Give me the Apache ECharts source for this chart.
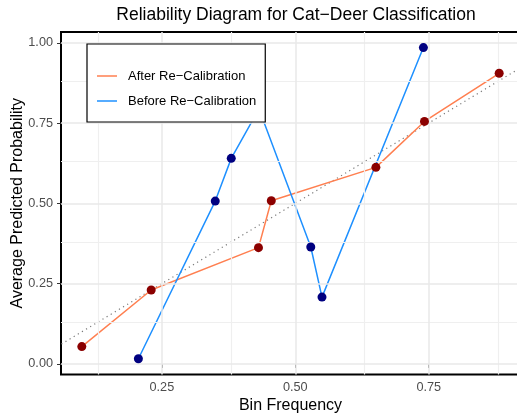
<!DOCTYPE html>
<html>
<head>
<meta charset="utf-8">
<script src="https://cdn.jsdelivr.net/npm/echarts@6/dist/echarts.min.js"></script>
<style>
  html, body { margin: 0; padding: 0; background: #fff; }
  #chart { width: 517px; height: 418px; }
</style>
</head>
<body>
<div id="chart"></div>
<script>
// Reliability curve: bin frequency (x) vs. average predicted probability (y)
const binFreqAfter  = [0.100, 0.230, 0.431, 0.455, 0.651, 0.742, 0.882];
const avgProbAfter  = [0.054, 0.230, 0.362, 0.508, 0.612, 0.755, 0.905];
const binFreqBefore = [0.206, 0.350, 0.380, 0.432, 0.529, 0.550, 0.740];
const avgProbBefore = [0.016, 0.507, 0.640, 0.794, 0.364, 0.208, 0.985];

const seriesNames = ['After Re\u2212Calibration', 'Before Re\u2212Calibration'];

const xTicks = [0.25, 0.50, 0.75];
const yTicks = [0.00, 0.25, 0.50, 0.75, 1.00];
const xMinorTicks = [0.125, 0.375, 0.625, 0.875];
const yMinorTicks = [0.125, 0.375, 0.625, 0.875];

const xRange = [0.061, 0.921];
const yRange = [-0.033, 1.0335];

const pairs = (xs, ys) => xs.map((x, i) => [x, ys[i]]);

const FONT = '"Liberation Sans", Arial, Helvetica, sans-serif';
const majorGrid = { color: '#e9e9e9', width: 1.5, type: 'solid' };
const minorGrid = { color: '#efefef', width: 1.2, type: 'solid' };

const gridLines = [
  ...xMinorTicks.map(v => ({ xAxis: v, lineStyle: minorGrid })),
  ...yMinorTicks.map(v => ({ yAxis: v, lineStyle: minorGrid })),
  ...xTicks.map(v => ({ xAxis: v, lineStyle: majorGrid })),
  ...yTicks.map(v => ({ yAxis: v, lineStyle: majorGrid }))
];

const chart = echarts.init(document.getElementById('chart'), null, { renderer: 'canvas' });

chart.setOption({
  animation: false,
  backgroundColor: '#ffffff',
  textStyle: { fontFamily: FONT },
  title: {
    text: 'Reliability Diagram for Cat\u2212Deer Classification',
    left: 291,
    textAlign: 'center',
    top: 1.5,
    textStyle: { fontFamily: FONT, fontSize: 17.5, fontWeight: 'normal', color: '#000' }
  },
  grid: {
    left: 61, top: 32, right: -3, bottom: 43.5,
    outerBoundsMode: 'none',
    containLabel: false,
    show: true,
    borderColor: '#000',
    borderWidth: 2,
    backgroundColor: 'transparent'
  },
  legend: {
    data: seriesNames,
    orient: 'vertical',
    left: 87,
    top: 44,
    icon: 'rect',
    itemWidth: 20,
    itemHeight: 1.5,
    itemGap: 12,
    padding: [25.5, 9, 14.5, 10],
    borderColor: '#000',
    borderWidth: 1.2,
    backgroundColor: '#fff',
    selectedMode: false,
    z: 20,
    textStyle: { fontFamily: FONT, fontSize: 13, color: '#000', padding: [0, 0, 0, 6] }
  },
  xAxis: {
    type: 'value',
    min: xRange[0],
    max: xRange[1],
    name: 'Bin Frequency',
    nameLocation: 'middle',
    nameGap: 23,
    nameMoveOverlap: false,
    nameTextStyle: { fontFamily: FONT, fontSize: 16, color: '#000' },
    axisLine: { show: false },
    axisTick: { show: true, length: 4, customValues: xTicks, lineStyle: { color: '#333', width: 1 } },
    axisLabel: {
      customValues: xTicks,
      formatter: v => v.toFixed(2),
      color: '#4d4d4d', fontSize: 12.7, margin: 6, fontFamily: FONT
    },
    splitLine: { show: false }
  },
  yAxis: {
    type: 'value',
    min: yRange[0],
    max: yRange[1],
    name: 'Average Predicted Probability',
    nameLocation: 'middle',
    nameGap: 35,
    nameMoveOverlap: false,
    nameTextStyle: { fontFamily: FONT, fontSize: 16, color: '#000' },
    axisLine: { show: false },
    axisTick: { show: true, length: 4, customValues: yTicks, lineStyle: { color: '#333', width: 1 } },
    axisLabel: {
      customValues: yTicks,
      formatter: v => v.toFixed(2),
      color: '#4d4d4d', fontSize: 12.7, margin: 8, fontFamily: FONT
    },
    splitLine: { show: false }
  },
  series: [
    {
      // identity line for perfect calibration, plus panel grid lines
      type: 'line',
      name: 'identity',
      data: [[0, 0], [1, 1]],
      showSymbol: false,
      silent: true,
      clip: true,
      z: 1,
      lineStyle: { color: '#7a7a7a', width: 1.2, type: [1.2, 3.6] },
      markLine: {
        silent: true,
        symbol: ['none', 'none'],
        label: { show: false },
        animation: false,
        data: gridLines
      }
    },
    {
      type: 'line',
      name: seriesNames[0],
      data: pairs(binFreqAfter, avgProbAfter),
      showSymbol: false,
      z: 3,
      itemStyle: { color: '#ff7f50' },
      lineStyle: { color: '#ff7f50', width: 1.5 }
    },
    {
      type: 'line',
      name: seriesNames[1],
      data: pairs(binFreqBefore, avgProbBefore),
      showSymbol: false,
      z: 4,
      itemStyle: { color: '#1e90ff' },
      lineStyle: { color: '#1e90ff', width: 1.5 }
    },
    {
      type: 'scatter',
      name: 'after-points',
      data: pairs(binFreqAfter, avgProbAfter),
      symbolSize: 9,
      z: 5,
      itemStyle: { color: '#8b0000', opacity: 1 }
    },
    {
      type: 'scatter',
      name: 'before-points',
      data: pairs(binFreqBefore, avgProbBefore),
      symbolSize: 9,
      z: 5,
      itemStyle: { color: '#000080', opacity: 1 }
    }
  ]
});
</script>
</body>
</html>
